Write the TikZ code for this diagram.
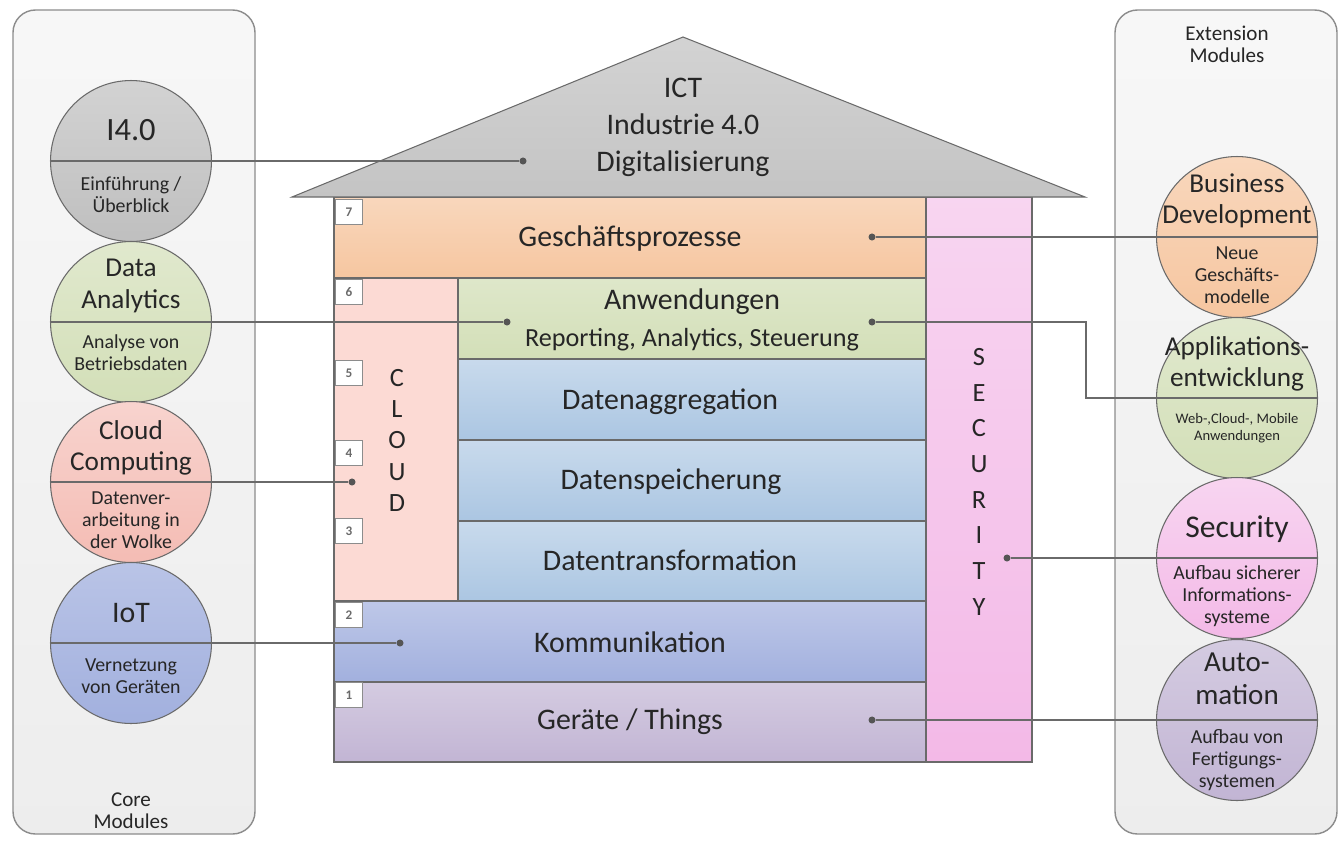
\documentclass[tikz,border=0pt]{standalone}
\usepackage{fontspec}
\setmainfont{Carlito}
\usetikzlibrary{calc,shadows}

% colours of the house and the modules
\definecolor{framegray}{HTML}{8C8C8C}
\definecolor{linegray}{HTML}{6A6A6A}
\definecolor{textdark}{HTML}{262626}
\definecolor{roofgray}{HTML}{C4C4C4}
\definecolor{procorange}{HTML}{F6C6A0}
\definecolor{appgreen}{HTML}{D3DFB8}
\definecolor{datablue}{HTML}{ABC6E2}
\definecolor{commblue}{HTML}{A2B0DE}
\definecolor{thingviolet}{HTML}{C2B5D4}
\definecolor{cloudpink}{HTML}{FCDAD4}
\definecolor{secpink}{HTML}{F3B9E7}
\definecolor{cloudred}{HTML}{F4BCB4}

\tikzset{
  panel/.style={draw=framegray, line width=0.8pt, rounded corners=0.45cm, top color=white!97!black, bottom color=white!93!black},
  tier/.style={draw=linegray, line width=0.6pt},
  tiertext/.style={text=textdark, font=\fontsize{17}{21}\selectfont, align=center, inner sep=0pt},
  subtext/.style={text=textdark, font=\fontsize{14.9}{17}\selectfont, inner sep=0pt},
  stackletter/.style={text=textdark, font=\fontsize{15}{17}\selectfont, inner sep=0pt},
  numbox/.style={draw=framegray, fill=white, minimum width=0.54cm, minimum height=0.5cm, inner sep=0pt, anchor=north west,
    font=\fontsize{7.5}{8}\selectfont\bfseries, text=linegray, drop shadow={shadow xshift=0.6pt, shadow yshift=-0.6pt, opacity=0.3}},
  module/.style={circle, draw=linegray, line width=0.6pt, minimum size=3.22cm, inner sep=0pt},
  modtitle/.style={align=center, text=textdark, font=\fontsize{15.5}{18}\selectfont, inner sep=0pt},
  modtext/.style={align=center, text=textdark, font=\fontsize{11.3}{12.6}\selectfont, inner sep=0pt},
  joint/.style={circle, fill=linegray!80!black, minimum size=4pt, inner sep=0pt},
  wire/.style={draw=linegray, line width=0.6pt},
  boxlabel/.style={align=center, text=textdark, font=\fontsize{12}{12.5}\selectfont, inner sep=0pt},
}

\begin{document}
\begin{tikzpicture}[x=0.02cm, y=-0.02cm]
  \useasboundingbox (0,0) rectangle (1341,842);

  % module panels left and right
  \draw[panel] (13,10) rectangle (255,834);
  \draw[panel] (1115,10) rectangle (1337,834);
  \node[boxlabel] (core) at (131,811) {Core\\Modules};
  \node[boxlabel] (ext) at (1227,44) {Extension\\Modules};

  % the house, layer by layer
  \draw[tier, top color=procorange!70, bottom color=procorange] (334,197) rectangle (926,278); % 7
  \draw[tier, top color=cloudpink, bottom color=cloudpink] (334,278) rectangle (458,601); % cloud column
  \draw[tier, top color=appgreen!75, bottom color=appgreen] (458,278) rectangle (926,359); % 6
  \foreach \top in {359,440,521} {
    \draw[tier, top color=datablue!65, bottom color=datablue] (458,\top) rectangle (926,\top+81); % 5 to 3
  }
  \draw[tier, top color=commblue!70, bottom color=commblue] (334,601) rectangle (926,682); % 2
  \draw[tier, top color=thingviolet!70, bottom color=thingviolet] (334,682) rectangle (926,762); % 1
  \draw[tier, top color=secpink!60, bottom color=secpink] (926,197) rectangle (1032,762); % security column
  \draw[tier, top color=roofgray!75, bottom color=roofgray] (292,197) -- (683,37) -- (1085,197) -- cycle; % roof

  % layer numbers
  \foreach \n/\y in {7/199,6/279,5/360,4/440,3/518,2/602,1/682} {
    \node[numbox] (num\n) at (335,\y) {\n};
  }

  % texts in the house
  \node[tiertext] (ict) at (683,127) {ICT\\Industrie 4.0\\Digitalisierung};
  \node[tiertext] (proc) at (630,239) {Geschäftsprozesse};
  \node[tiertext] (appl) at (692,302) {Anwendungen};
  \node[subtext] (applsub) at (692,340) {Reporting, Analytics, Steuerung};
  \node[tiertext] (aggr) at (670,402) {Datenaggregation};
  \node[tiertext] (store) at (671,482) {Datenspeicherung};
  \node[tiertext] (trans) at (670,560) {Datentransformation};
  \node[tiertext] (comm) at (630,642) {Kommunikation};
  \node[tiertext] (things) at (630,722) {Geräte / Things};
  \foreach \ch [count=\i from 0] in {C,L,O,U,D}
    \node[stackletter] (cl\i) at (397,{378+31.25*\i}) {\ch};
  \foreach \ch [count=\i from 0] in {S,E,C,U,R,I,T,Y}
    \node[stackletter] (se\i) at (979,{357+35.7*\i}) {\ch};

  % connection points
  \node[joint] (droof) at (523,161) {};
  \node[joint] (dproc) at (872,237) {};
  \node[joint] (dappl) at (507,322) {};
  \node[joint] (dappr) at (872,322) {};
  \node[joint] (dcloud) at (352,482) {};
  \node[joint] (dcomm) at (400,643) {};
  \node[joint] (dsec) at (1007,558) {};
  \node[joint] (dthing) at (872,720) {};
  \coordinate (bend) at (1086,322);

  % core modules
  \node[module, top color=gray!35, bottom color=gray!50] (i40) at (131,161) {};
  \node[modtitle, font=\fontsize{18.5}{20}\selectfont] (i40t) at ([yshift=0.62cm]i40.center) {I4.0};
  \node[modtext] (i40s) at ([yshift=-0.68cm]i40.center) {Einführung /\\Überblick};

  \node[module, top color=appgreen!70, bottom color=appgreen] (ana) at (131,322) {};
  \node[modtitle] (anat) at ([yshift=0.72cm]ana.center) {Data\\Analytics};
  \node[modtext] (anas) at ([yshift=-0.62cm]ana.center) {Analyse von\\Betriebsdaten};

  \node[module, top color=cloudred!65, bottom color=cloudred] (cc) at (131,482) {};
  \node[modtitle] (cct) at ([yshift=0.68cm]cc.center) {Cloud\\Computing};
  \node[modtext] (ccs) at ([yshift=-0.76cm]cc.center) {Datenver-\\arbeitung in\\der Wolke};

  \node[module, top color=commblue!75, bottom color=commblue] (iot) at (131,643) {};
  \node[modtitle, font=\fontsize{17}{19}\selectfont] (iott) at ([yshift=0.6cm]iot.center) {IoT};
  \node[modtext] (iots) at ([yshift=-0.66cm]iot.center) {Vernetzung\\von Geräten};

  % extension modules
  \node[module, top color=procorange!70, bottom color=procorange] (bus) at (1237,237) {};
  \node[modtitle] (bust) at ([yshift=0.72cm]bus.center) {Business\\Development};
  \node[modtext] (buss) at ([yshift=-0.76cm]bus.center) {Neue\\Geschäfts-\\modelle};

  \node[module, top color=appgreen!70, bottom color=appgreen] (dev) at (1237,398) {};
  \node[modtitle] (devt) at ([yshift=0.68cm]dev.center) {Applikations-\\entwicklung};
  \node[modtext, font=\fontsize{8.3}{10}\selectfont] (devs) at ([yshift=-0.6cm]dev.center) {Web-,Cloud-, Mobile\\Anwendungen};

  \node[module, top color=secpink!60, bottom color=secpink] (sec) at (1237,558) {};
  \node[modtitle, font=\fontsize{18}{20}\selectfont] (sect) at ([yshift=0.58cm]sec.center) {Security};
  \node[modtext] (secs) at ([yshift=-0.76cm]sec.center) {Aufbau sicherer\\Informations-\\systeme};

  \node[module, top color=thingviolet!70, bottom color=thingviolet] (auto) at (1237,720) {};
  \node[modtitle, font=\fontsize{16.5}{19}\selectfont] (autot) at ([yshift=0.82cm]auto.center) {Auto-\\mation};
  \node[modtext] (autos) at ([yshift=-0.8cm]auto.center) {Aufbau von\\Fertigungs-\\systemen};

  % dividing lines in the circles
  \foreach \m in {i40,ana,cc,iot,bus,dev,sec,auto}
    \draw[wire] (\m.west) -- (\m.east);

  % connectors
  \draw[wire] (i40.east) -- (droof);
  \draw[wire] (ana.east) -- (dappl);
  \draw[wire] (cc.east) -- (dcloud);
  \draw[wire] (iot.east) -- (dcomm);
  \draw[wire] (dproc) -- (bus.west);
  \draw[wire] (dappr) -- (bend) |- (dev.west);
  \draw[wire] (dsec) -- (sec.west);
  \draw[wire] (dthing) -- (auto.west);
\end{tikzpicture}
\end{document}
